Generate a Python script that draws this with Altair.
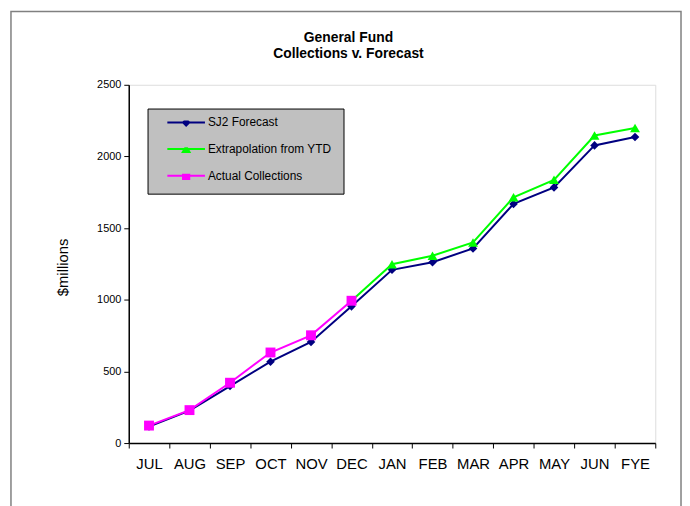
import altair as alt
import pandas as pd

months = ["JUL", "AUG", "SEP", "OCT", "NOV", "DEC", "JAN", "FEB", "MAR", "APR", "MAY", "JUN", "FYE"]
sj2_forecast = [115, 226, 398, 568, 706, 954, 1209, 1262, 1358, 1669, 1784, 2077, 2136]
extrap_months = ["DEC", "JAN", "FEB", "MAR", "APR", "MAY", "JUN", "FYE"]
extrapolation = [993, 1248, 1307, 1400, 1715, 1837, 2146, 2198]
actual_months = ["JUL", "AUG", "SEP", "OCT", "NOV", "DEC"]
actual = [122, 230, 421, 632, 752, 993]
y_ticks = [0, 500, 1000, 1500, 2000, 2500]

series_names = ["SJ2 Forecast", "Extrapolation from YTD", "Actual Collections"]
series_colors = ["#000080", "#00FF00", "#FF00FF"]
series_shapes = ["diamond", "triangle-up", "square"]
series_sizes = [75, 100, 100]

rows = []
for name, ms, vs in zip(series_names, [months, extrap_months, actual_months],
                        [sj2_forecast, extrapolation, actual]):
    for m, v in zip(ms, vs):
        rows.append({"series": name, "month": m, "value": v})
df = pd.DataFrame(rows)

FONT = "Liberation Sans"

x_enc = alt.X(
    "month:N",
    scale=alt.Scale(type="band", domain=months, paddingInner=0, paddingOuter=0),
    axis=alt.Axis(title=None, labelAngle=0, tickBand="extent", tickSize=5,
                  tickColor="black", domainColor="black", domainWidth=1.5,
                  labelFontSize=15, labelFont=FONT, labelColor="black",
                  labelPadding=9, grid=False),
)
y_enc = alt.Y(
    "value:Q",
    scale=alt.Scale(domain=[0, 2500], nice=False),
    axis=alt.Axis(values=y_ticks, format="d", title="$millions", grid=False, tickSize=5,
                  tickColor="black", domainColor="black", domainWidth=1.5,
                  labelFontSize=11, labelFont=FONT, labelColor="black",
                  labelPadding=3, titleFont=FONT, titleFontSize=15,
                  titleFontWeight="normal", titleColor="black",
                  titleAngle=270, titleX=-67, titleY=184,
                  titleAlign="center", titleBaseline="middle"),
)

layers = []
frame = alt.Chart(alt.Data(values=[{"a": 1}])).mark_rect(
    fillOpacity=0, stroke="#808080", strokeWidth=1.5
).encode(x=alt.value(-119), x2=alt.value(558), y=alt.value(-74), y2=alt.value(440))
layers.append(frame)

for name, col, shp, sz in zip(series_names, series_colors, series_shapes, series_sizes):
    base = alt.Chart(df).transform_filter(alt.datum.series == name)
    layers.append(base.mark_line(color=col, strokeWidth=2).encode(x=x_enc, y=y_enc))
    layers.append(base.mark_point(filled=True, shape=shp, size=sz, color=col, opacity=1)
                  .encode(x=x_enc, y=y_enc))

line_part = "M-1,-0.053L1,-0.053L1,0.053L-1,0.053Z"
legend_paths = [
    line_part + "M0,-0.24L0.24,0L0,0.24L-0.24,0Z",
    line_part + "M0,-0.25L0.27,0.2L-0.27,0.2Z",
    line_part + "M-0.22,-0.22L0.22,-0.22L0.22,0.22L-0.22,0.22Z",
]
legend_cfg = alt.Legend(
    title=None, orient="none", legendX=19, legendY=24,
    fillColor="#C0C0C0", strokeColor="black", padding=12,
    symbolOffset=8, symbolSize=1444, symbolStrokeWidth=0, symbolOpacity=1,
    clipHeight=4, rowPadding=15, labelOffset=3,
    labelFont=FONT, labelFontSize=12, labelColor="black",
)
legend_df = pd.DataFrame({"series": series_names})
legend_layer = alt.Chart(legend_df).mark_point(filled=True, opacity=0).encode(
    color=alt.Color("series:N", scale=alt.Scale(domain=series_names, range=series_colors),
                    legend=legend_cfg),
    shape=alt.Shape("series:N", scale=alt.Scale(domain=series_names, range=legend_paths),
                    legend=legend_cfg),
)
layers.append(legend_layer)

chart = alt.layer(*layers).properties(
    width=532, height=362,
    autosize=alt.AutoSizeParams(type="none"),
    padding={"left": 122, "top": 75, "right": 27, "bottom": 61},
    title=alt.Title(["General Fund", "Collections v. Forecast"], font=FONT, fontSize=14,
                    fontWeight="bold", color="black", frame="group", anchor="middle",
                    offset=25, dy=76, dx=-44, lineHeight=16.5),
).configure_view(stroke="#808080", strokeWidth=1).configure(background="white")

chart.save("out.html", embed_options={"renderer": "svg", "actions": False})
